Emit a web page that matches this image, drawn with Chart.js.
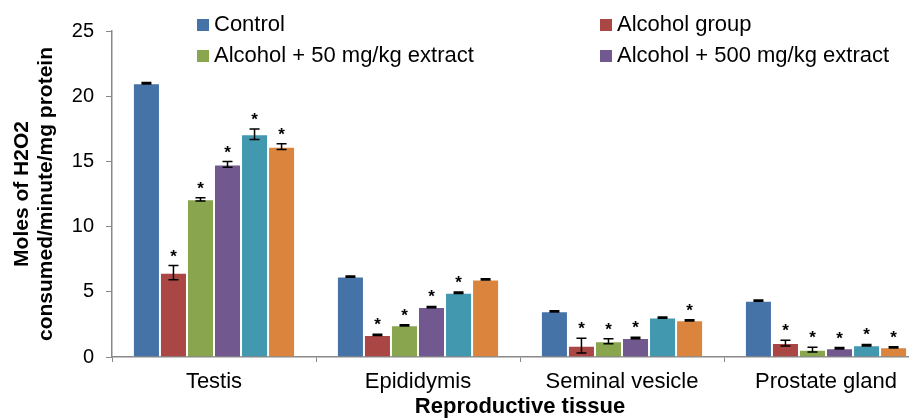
<!DOCTYPE html>
<html>
<head>
<meta charset="utf-8">
<script src="https://cdn.jsdelivr.net/npm/chart.js@4/dist/chart.umd.min.js"></script>
<style>
  html, body { margin: 0; padding: 0; overflow: hidden; background: #fff; }
  #wrap { position: relative; width: 940px; height: 420px; }
  .lg { position: absolute; font: 22px/24px "Liberation Sans", Arial, sans-serif; color: #000; white-space: nowrap; }
  .lg i { position: absolute; left: -17px; top: 7px; width: 12px; height: 12px; }
</style>
</head>
<body>
<div id="wrap">
  <canvas id="chart"></canvas>
</div>
<script>
/* Data */
const categories = ['Testis', 'Epididymis', 'Seminal vesicle', 'Prostate gland'];
const seriesNames = ['Control', 'Alcohol group', 'Alcohol + 50 mg/kg extract', 'Alcohol + 500 mg/kg extract', 'Group 5', 'Group 6'];

const control    = [21.0, 6.17, 3.50, 4.32];
const alcohol    = [6.47, 1.69, 0.87, 1.07];
const ext50      = [12.09, 2.43, 1.20, 0.56];
const ext500     = [14.77, 3.83, 1.46, 0.67];
const group5     = [17.08, 4.93, 3.02, 0.90];
const group6     = [16.13, 5.95, 2.81, 0.74];

const controlErr = [0.06, 0.05, 0.05, 0.05];
const alcoholErr = [0.54, 0.05, 0.56, 0.22];
const ext50Err   = [0.13, 0.05, 0.19, 0.18];
const ext500Err  = [0.22, 0.05, 0.06, 0.05];
const group5Err  = [0.40, 0.06, 0.05, 0.06];
const group6Err  = [0.22, 0.05, 0.05, 0.05];

// asterisk = significant vs control
const controlSig = [0, 0, 0, 0];
const alcoholSig = [1, 1, 1, 1];
const ext50Sig   = [1, 1, 1, 1];
const ext500Sig  = [1, 1, 1, 1];
const group5Sig  = [1, 1, 0, 1];
const group6Sig  = [1, 0, 1, 1];

const yTicks = [0, 5, 10, 15, 20, 25];

const colors = ['#4572A7', '#AA4643', '#89A54E', '#71588F', '#4198AF', '#DB843D'];
const values = [control, alcohol, ext50, ext500, group5, group6];
const errors = [controlErr, alcoholErr, ext50Err, ext500Err, group5Err, group6Err];
const sigs   = [controlSig, alcoholSig, ext50Sig, ext500Sig, group5Sig, group6Sig];

const FONT = '"Liberation Sans", Arial, sans-serif';

// HTML legend, only the first four series are shown in the picture
const legendPos = [[214, 12], [617, 12], [214, 43], [617, 43]];
const wrap = document.getElementById('wrap');
for (let i = 0; i < 4; i++) {
    const d = document.createElement('div');
    d.className = 'lg';
    d.style.left = legendPos[i][0] + 'px';
    d.style.top = legendPos[i][1] + 'px';
    d.innerHTML = '<i style="background:' + colors[i] + '"></i>';
    d.appendChild(document.createTextNode(seriesNames[i]));
    wrap.appendChild(d);
}

// error bars + asterisks
const errorBars = {
    id: 'errorBars',
    afterDatasetsDraw(chart) {
        const ctx = chart.ctx;
        const y = chart.scales.y;
        ctx.save();
        ctx.strokeStyle = '#000';
        ctx.lineWidth = 1.5;
        ctx.fillStyle = '#000';
        ctx.font = 'bold 17px ' + FONT;
        ctx.textAlign = 'center';
        ctx.textBaseline = 'alphabetic';
        values.forEach((vals, i) => {
            const meta = chart.getDatasetMeta(i);
            meta.data.forEach((bar, j) => {
                const x = bar.x;
                const top = y.getPixelForValue(vals[j] + errors[i][j]);
                const bot = y.getPixelForValue(vals[j] - errors[i][j]);
                ctx.beginPath();
                ctx.moveTo(x, top); ctx.lineTo(x, bot);
                ctx.moveTo(x - 5, top); ctx.lineTo(x + 5, top);
                ctx.moveTo(x - 5, bot); ctx.lineTo(x + 5, bot);
                ctx.stroke();
                if (sigs[i][j]) {
                    ctx.fillText('*', x, top - 4);
                }
            });
        });
        ctx.restore();
    }
};

Chart.defaults.font.family = FONT;
Chart.defaults.color = '#000';

new Chart(document.getElementById('chart'), {
    type: 'bar',
    data: {
        labels: categories,
        datasets: values.map((v, i) => ({
            label: seriesNames[i],
            data: v,
            backgroundColor: colors[i],
            borderColor: 'rgba(255,255,255,0.7)',
            borderWidth: 1,
            barPercentage: 1,
            categoryPercentage: 0.795
        }))
    },
    options: {
        responsive: true,
        maintainAspectRatio: false,
        animation: false,
        layout: { padding: { left: 10, top: 31, right: 12, bottom: 0 } },
        plugins: {
            legend: { display: false },
            tooltip: { enabled: false }
        },
        scales: {
            x: {
                grid: { drawOnChartArea: false, drawTicks: true, tickLength: 5, color: '#888' },
                border: { color: '#888', width: 1.5 },
                ticks: { font: { size: 22 }, padding: 7, maxRotation: 0 },
                title: {
                    display: true,
                    text: 'Reproductive tissue',
                    font: { size: 22, weight: 'bold' },
                    padding: { top: 0, bottom: 0 }
                },
                afterFit(scale) { scale.height = 63; }
            },
            y: {
                min: 0,
                max: 25,
                afterBuildTicks(scale) { scale.ticks = yTicks.map(v => ({ value: v })); },
                grid: { drawOnChartArea: false, drawTicks: true, tickLength: 6, color: '#888' },
                border: { color: '#888', width: 1.5 },
                ticks: { font: { size: 20 }, padding: 12 },
                title: {
                    display: true,
                    text: ['Moles of H2O2', 'consumed/minute/mg protein'],
                    font: { size: 21, weight: 'bold', lineHeight: 1.15 },
                    padding: 0
                },
                afterFit(scale) { scale.width = 102; }
            }
        }
    },
    plugins: [errorBars]
});
</script>
</body>
</html>
